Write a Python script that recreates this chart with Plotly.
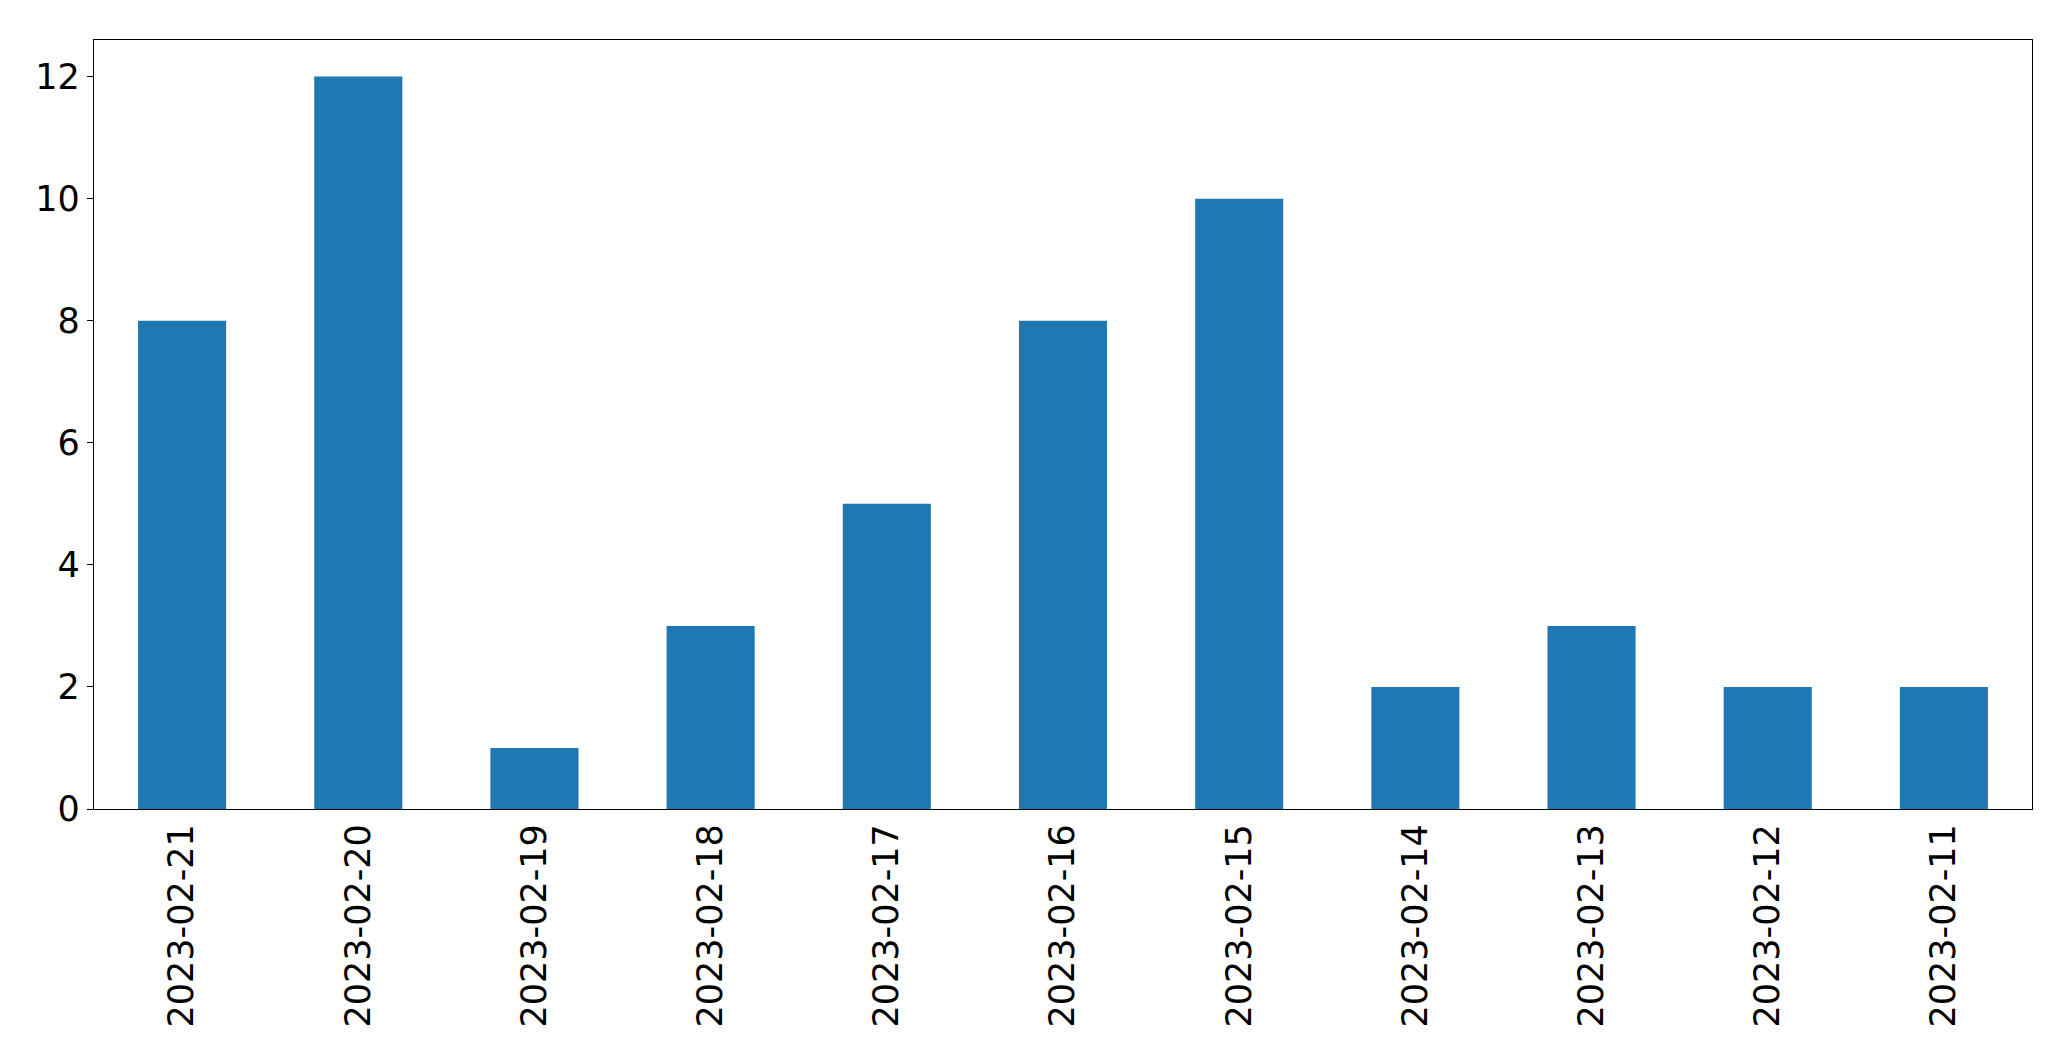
import plotly.graph_objects as go

dates = ["2023-02-21", "2023-02-20", "2023-02-19", "2023-02-18", "2023-02-17",
         "2023-02-16", "2023-02-15", "2023-02-14", "2023-02-13", "2023-02-12", "2023-02-11"]
counts = [8, 12, 1, 3, 5, 8, 10, 2, 3, 2, 2]
y_ticks = [0, 2, 4, 6, 8, 10, 12]

fig = go.Figure(go.Bar(x=dates, y=counts, marker=dict(color="#1f77b4", line=dict(width=0)), width=0.5))

font = dict(family="DejaVu Sans", size=35, color="black")
fig.update_layout(
    width=2055, height=1045,
    margin=dict(l=86, r=31, t=32, b=244, pad=0),
    plot_bgcolor="white", paper_bgcolor="white",
    showlegend=False,
    font=font,
    xaxis2=dict(
        overlaying="x", anchor="y", side="bottom", type="linear",
        range=[-0.5, 10.5], tickvals=list(range(len(dates))),
        showticklabels=False, ticks="outside", ticklen=6, tickwidth=1.3,
        tickcolor="black", showgrid=False, zeroline=False, showline=False,
    ),
)
fig.update_xaxes(
    type="category", range=[-0.5, 10.5],
    showline=True, linecolor="black", linewidth=1.3, mirror=True,
    ticks="outside", ticklen=0, tickwidth=1.3, tickcolor="black",
    tickangle=-90, tickfont=font, showgrid=False, zeroline=False,
    selector=dict(anchor="y", overlaying=None) if False else None,
)
fig.layout.xaxis.update(ticklen=0)
fig.update_yaxes(
    range=[0, 12.6], tickvals=y_ticks,
    showline=True, linecolor="black", linewidth=1.3, mirror=True,
    ticks="outside", ticklen=6, tickwidth=1.3, tickcolor="black",
    tickfont=font, showgrid=False, zeroline=False,
)
fig.write_html("out.html")
